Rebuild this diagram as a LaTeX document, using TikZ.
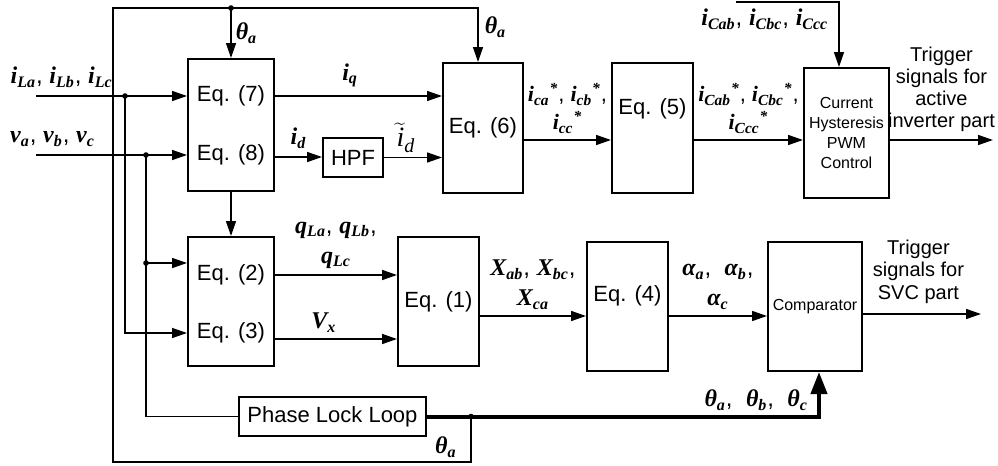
\documentclass[tikz,border=0pt]{standalone}
\usepackage{fontspec}
\setmainfont{Liberation Sans}
\newfontfamily\sigfont{Liberation Serif}
\usetikzlibrary{arrows.meta, positioning}

\newcommand{\sg}[2]{{\sigfont\bfseries\itshape #1\textsubscript{#2}}}
\newcommand{\sgs}[2]{{\sigfont\bfseries\itshape #1\textsubscript{#2}\textsuperscript{*}}}

\begin{document}
\begin{tikzpicture}[x=0.5pt, y=-0.5pt, on grid, node distance=1cm,
        >={Triangle[length=7.5pt, width=5pt]},
        eqbox/.style={draw, line width=1pt, minimum width=40.5pt, minimum height=65pt, inner sep=0pt, font=\fontsize{11}{13}\selectfont},
        eqtext/.style={font=\fontsize{11}{13}\selectfont, inner sep=0pt},
        wire/.style={line width=.75pt},
        sig/.style={wire, ->},
        bus/.style={line width=2pt, -{Triangle[length=11pt, width=8pt]}},
        lbl/.style={font=\fontsize{12}{15}\selectfont, align=center, inner sep=1pt},
        trig/.style={font=\fontsize{10}{11}\selectfont, align=center, inner sep=1pt},
        jdot/.style={circle, fill, inner sep=0pt, minimum size=2.8pt}]
        \useasboundingbox (0,0) rectangle (998,466);

        % blocks
        \node[eqbox, minimum width=43pt, minimum height=66pt] (eq78) at (231,125) {};
        \node[eqtext] (t7) [above=14.5pt of eq78] {Eq. (7)};
        \node[eqtext] (t8) [below=15pt of eq78] {Eq. (8)};
        \node[eqbox, minimum width=30pt, minimum height=19.5pt] (hpf) [below right=16.25pt and 61pt of eq78] {HPF};
        \node[eqbox, minimum width=40pt] (eq6) [below right=1.5pt and 126pt of eq78] {Eq. (6)};
        \node[eqbox] (eq5) [right=84.75pt of eq6] {};
        \node[eqtext] (t5) [above=9.5pt of eq5] {Eq. (5)};
        \node[eqbox, minimum width=42.5pt, font=\fontsize{8}{10}\selectfont, align=center] (chp) [below right=2.5pt and 97pt of eq5] {Current\\Hysteresis\\PWM\\Control};

        \node[eqbox, minimum width=43pt, minimum height=64.5pt] (eq23) [below=88.25pt of eq78] {};
        \node[eqtext] (t2) [above=13.25pt of eq23] {Eq. (2)};
        \node[eqtext] (t3) [below=15.75pt of eq23] {Eq. (3)};
        \node[eqbox, minimum height=64.5pt] (eq1) [right=103.75pt of eq23] {Eq. (1)};
        \node[eqbox, minimum height=64.5pt] (eq4) [below right=2.5pt and 94.5pt of eq1] {};
        \node[eqtext] (t4) [above=5.25pt of eq4] {Eq. (4)};
        \node[eqbox, minimum width=47pt, minimum height=64.5pt, font=\fontsize{8}{10}\selectfont] (comp) [right=93.75pt of eq4] {Comparator};
        \node[eqbox, minimum width=93.5pt, minimum height=19.5pt] (pll) [below right=57.5pt and 50.75pt of eq23] {Phase Lock Loop};

        % inputs and junctions
        \coordinate (iL) at (36,96);
        \coordinate (vv) at (36,155);
        \coordinate (d1) at (125,96);
        \coordinate (d2) at (146,155);
        \coordinate (e2in) at ([yshift=19.25pt]eq23.west);
        \coordinate (e3in) at ([yshift=-15.75pt]eq23.west);
        \coordinate (d3) at (d2 |- e2in);
        \coordinate (ja) at (eq78.north |- 0,8);
        \coordinate (jb) at ([xshift=22pt]pll.east);
        \coordinate (cb) at ([xshift=2pt]comp.south);
        \coordinate (icin) at (736,2);

        % block outputs
        \coordinate (o7) at ([yshift=14.5pt]eq78.east);
        \coordinate (o8) at ([yshift=-16pt]eq78.east);
        \coordinate (o6) at ([yshift=-6pt]eq6.east);
        \coordinate (o55) at (eq5.east |- o6);
        \coordinate (och) at (chp.east |- o6);
        \coordinate (act) at ([xshift=51.5pt]och);
        \coordinate (o2) at ([yshift=13.25pt]eq23.east);
        \coordinate (o3) at ([yshift=-18.75pt]eq23.east);
        \coordinate (o1) at ([yshift=-7.25pt]eq1.east);
        \coordinate (o4) at (eq4.east |- o1);
        \coordinate (oc) at (comp.east |- 0,314);
        \coordinate (svc) at ([xshift=59pt]oc);

        \draw[sig] (iL) -- (iL -| eq78.west) node[lbl, pos=.17, above=3pt] {\sg{i}{La}, \sg{i}{Lb}, \sg{i}{Lc}};
        \draw[sig] (vv) -- (vv -| eq78.west) node[lbl, pos=.11, above=3pt] {\sg{v}{a}, \sg{v}{b}, \sg{v}{c}};
        \draw[sig] (d1) |- (e3in);
        \draw[sig] (d3) -- (e2in);
        \draw[wire] (d2) |- (pll.west);
        \node[jdot] (n1) at (d1) {};
        \node[jdot] (n2) at (d2) {};
        \node[jdot] (n3) at (d3) {};

        \draw[sig] (ja) -- (eq78.north) node[lbl, midway, right=1pt] {\sg{θ}{a}};
        \draw[sig] (jb) -- (jb |- 0,462) -| node[lbl, pos=.035, above=1pt] {\sg{θ}{a}} (113,8)
            -| node[lbl, pos=.68, right=2pt] {\sg{θ}{a}} ([xshift=-2.5pt]eq6.north);
        \node[jdot] (n4) at (ja) {};
        \draw[bus] (pll.east) -| node[lbl, pos=.42, above=1pt] {\sg{θ}{a}, \ \sg{θ}{b}, \ \sg{θ}{c}} (cb);
        \node[jdot] (n5) at (jb) {};

        \draw[sig] (o7) -- (o7 -| eq6.west) node[lbl, pos=.45, above=3pt] {\sg{i}{q}};
        \draw[sig] (o8) -- (o8 -| hpf.west) node[lbl, midway, above=3pt] {\sg{i}{d}};
        \draw[sig] (hpf) -- (hpf -| eq6.west) node[lbl, pos=.38, above=1pt] {$\widetilde{\mbox{\sigfont\itshape\fontsize{14}{15}\selectfont i}}_{\mbox{\sigfont\itshape\fontsize{10}{11}\selectfont d}}$};
        \draw[sig] (eq78) -- (eq23);
        \draw[sig] (o6) -- (o55 -| eq5.west) node[lbl, midway, above=2pt, font=\fontsize{11}{14}\selectfont] {\sgs{i}{ca}, \sgs{i}{cb},\\\sgs{i}{cc}};
        \draw[sig] (o55) -- (o55 -| chp.west) node[lbl, midway, above=2pt, font=\fontsize{11}{14}\selectfont] {\sgs{i}{Cab}, \sgs{i}{Cbc},\\\sgs{i}{Ccc}};
        \draw[sig] (icin) -| node[lbl, pos=.14, below=2pt] {\sg{i}{Cab}, \sg{i}{Cbc}, \sg{i}{Ccc}} ([xshift=-3.75pt]chp.north);
        \draw[sig] (och) -- (act) node[trig, midway, above=3pt] {Trigger\\signals for\\active\\inverter part};

        \draw[sig] (o2) -- (o2 -| eq1.west) node[lbl, midway, above=2pt] {\sg{q}{La}, \sg{q}{Lb},\\\sg{q}{Lc}};
        \draw[sig] (o3) -- (o3 -| eq1.west) node[lbl, pos=.4, above=2pt] {\sg{V}{x}};
        \draw[sig] (o1) -- (o1 -| eq4.west) node[lbl, midway, above=2pt] {\sg{X}{ab}, \sg{X}{bc},\\\sg{X}{ca}};
        \draw[sig] (o4) -- (o4 -| comp.west) node[lbl, midway, above=2pt] {\sg{α}{a}, \ \sg{α}{b},\\\sg{α}{c}};
        \draw[sig] (oc) -- (svc) node[trig, pos=.47, above=4pt, font=\fontsize{10}{11.25}\selectfont] {Trigger\\signals for\\SVC part};
\end{tikzpicture}
\end{document}
